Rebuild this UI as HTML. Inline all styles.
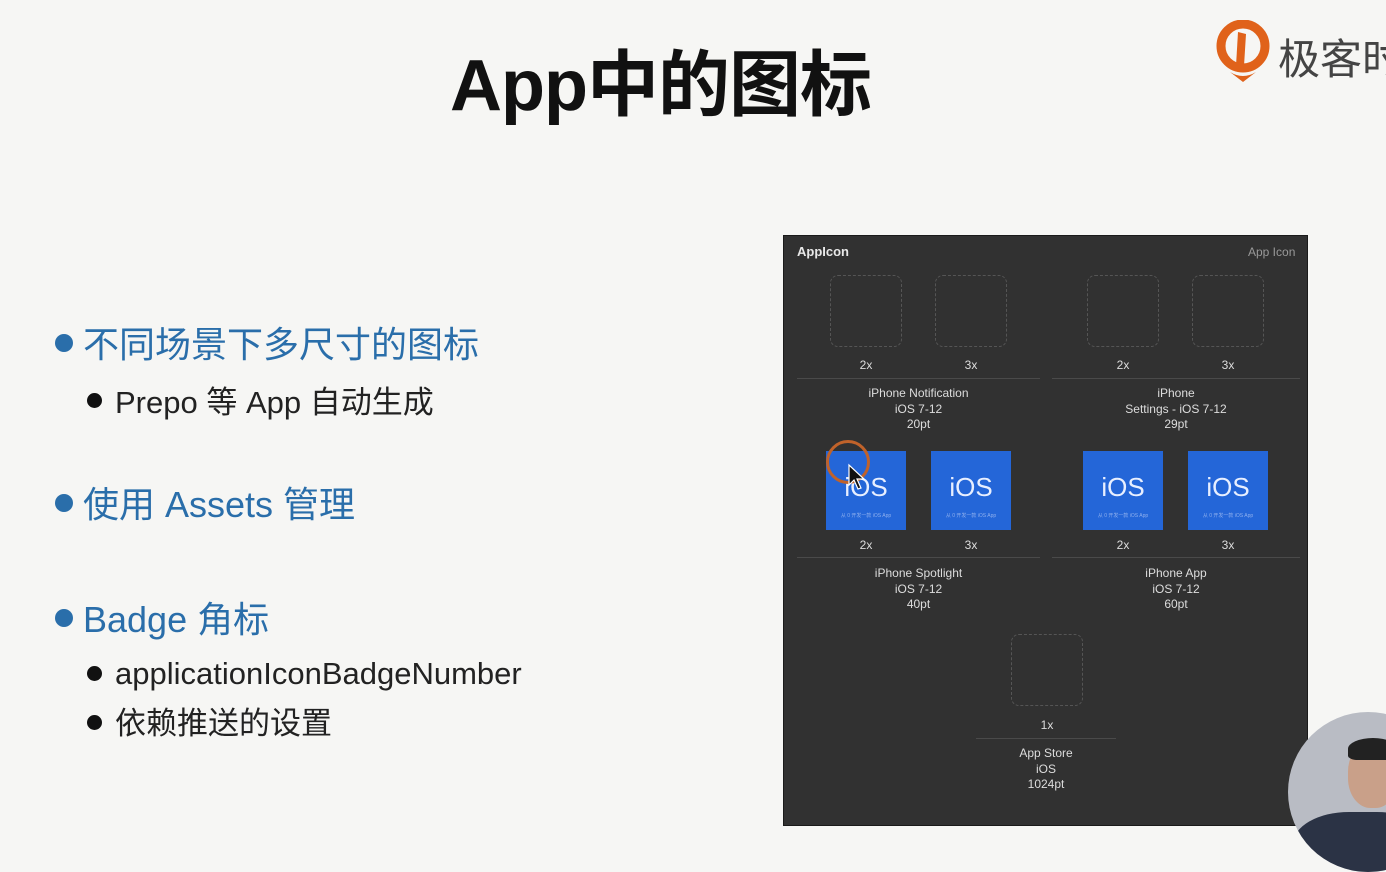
<!DOCTYPE html>
<html><head><meta charset="utf-8"><style>
body{margin:0;width:1386px;height:861px;background:#f6f6f4;position:relative;overflow:hidden;font-family:"Liberation Sans","Noto Sans CJK SC",sans-serif}
.a{position:absolute}
.t{position:absolute;white-space:nowrap}
.l1{font-size:36px;color:#2a6eaa;line-height:42px}
.l2{font-size:31px;color:#222;line-height:36px}
.dot1{position:absolute;width:18px;height:18px;border-radius:50%;background:#2a6eaa}
.dot2{position:absolute;width:15px;height:15px;border-radius:50%;background:#111}
.p{font-size:12px;color:#ddd;text-align:center;line-height:15.5px}
.d{position:absolute;width:70px;height:70px;border:1.5px dashed #555;border-radius:8px}
.b{position:absolute;width:80px;height:79px;background:#2466d8;color:#e8efff;font-size:26px;text-align:center;line-height:72px}
.b:after{content:"从 0 开发一款 iOS App";position:absolute;left:0;right:0;top:62px;font-size:5px;line-height:6px;color:#8fb0ee}
.s{position:absolute;height:1px;background:#4a4a4a}
.x{position:absolute;font-size:12px;color:#ddd;width:40px;text-align:center}
</style></head><body>
<div class="t" style="left:450px;top:26px;font-size:72px;font-weight:bold;color:#111;letter-spacing:-1px">App中的图标</div>
<svg class="a" style="left:1216px;top:20px" width="56" height="62"><circle cx="27" cy="26" r="22" fill="none" stroke="#e0621a" stroke-width="9"/><path d="M22 12 L30 14 L28 46 L20 46Z" fill="#e0621a"/><path d="M14 52 Q27 60 40 52 L27 62Z" fill="#e0621a"/></svg>
<div class="t" style="left:1278px;top:26px;font-size:42px;color:#444">极客时</div>

<div class="dot1" style="left:55px;top:334px"></div><div class="t l1" style="left:83px;top:324px">不同场景下多尺寸的图标</div>
<div class="dot2" style="left:87px;top:393px"></div><div class="t l2" style="left:115px;top:385px">Prepo 等 App 自动生成</div>
<div class="dot1" style="left:55px;top:494px"></div><div class="t l1" style="left:83px;top:484px">使用 Assets 管理</div>
<div class="dot1" style="left:55px;top:609px"></div><div class="t l1" style="left:83px;top:599px">Badge 角标</div>
<div class="dot2" style="left:87px;top:666px"></div><div class="t l2" style="left:115px;top:656px">applicationIconBadgeNumber</div>
<div class="dot2" style="left:87px;top:715px"></div><div class="t l2" style="left:115px;top:706px">依赖推送的设置</div>

<div class="a" style="left:783px;top:235px;width:523px;height:589px;background:#313131;border:1px solid #1a1a1a"></div>
<div class="t" style="left:797px;top:244px;font-size:13px;font-weight:bold;color:#e8e8e8">AppIcon</div>
<div class="t" style="left:1248px;top:245px;font-size:12px;color:#999">App Icon</div>

<div class="d" style="left:830px;top:275px"></div><div class="d" style="left:935px;top:275px"></div>
<div class="d" style="left:1087px;top:275px"></div><div class="d" style="left:1192px;top:275px"></div>
<div class="x" style="left:846px;top:358px">2x</div><div class="x" style="left:951px;top:358px">3x</div>
<div class="x" style="left:1103px;top:358px">2x</div><div class="x" style="left:1208px;top:358px">3x</div>
<div class="s" style="left:797px;top:378px;width:243px"></div><div class="s" style="left:1052px;top:378px;width:248px"></div>
<div class="a p" style="left:797px;top:386px;width:243px">iPhone Notification<br>iOS 7-12<br>20pt</div>
<div class="a p" style="left:1052px;top:386px;width:248px">iPhone<br>Settings - iOS 7-12<br>29pt</div>

<div class="b" style="left:826px;top:451px">iOS</div><div class="b" style="left:931px;top:451px">iOS</div>
<div class="b" style="left:1083px;top:451px">iOS</div><div class="b" style="left:1188px;top:451px">iOS</div>
<div class="a" style="left:826px;top:440px;width:44px;height:44px;border:3px solid #c0622a;border-radius:50%;box-sizing:border-box"></div>
<svg class="a" style="left:847px;top:463px" width="20" height="28"><path d="M2 2 L2 22 L7 17 L11 26 L14 25 L10 16 L17 16Z" fill="#111" stroke="#fff" stroke-width="1.2"/></svg>
<div class="x" style="left:846px;top:538px">2x</div><div class="x" style="left:951px;top:538px">3x</div>
<div class="x" style="left:1103px;top:538px">2x</div><div class="x" style="left:1208px;top:538px">3x</div>
<div class="s" style="left:797px;top:557px;width:243px"></div><div class="s" style="left:1052px;top:557px;width:248px"></div>
<div class="a p" style="left:797px;top:566px;width:243px">iPhone Spotlight<br>iOS 7-12<br>40pt</div>
<div class="a p" style="left:1052px;top:566px;width:248px">iPhone App<br>iOS 7-12<br>60pt</div>

<div class="d" style="left:1011px;top:634px"></div>
<div class="x" style="left:1027px;top:718px">1x</div>
<div class="s" style="left:976px;top:738px;width:140px"></div>
<div class="a p" style="left:976px;top:746px;width:140px">App Store<br>iOS<br>1024pt</div>

<div class="a" style="left:1288px;top:712px;width:160px;height:160px;border-radius:50%;background:#b9bcc4;overflow:hidden">
<div class="a" style="left:60px;top:30px;width:50px;height:66px;border-radius:45%;background:#c9a089"></div>
<div class="a" style="left:60px;top:26px;width:50px;height:22px;border-radius:50% 50% 20% 20%;background:#222"></div>
<div class="a" style="left:5px;top:100px;width:140px;height:80px;border-radius:40%;background:#2b3345"></div>
</div>
</body></html>
